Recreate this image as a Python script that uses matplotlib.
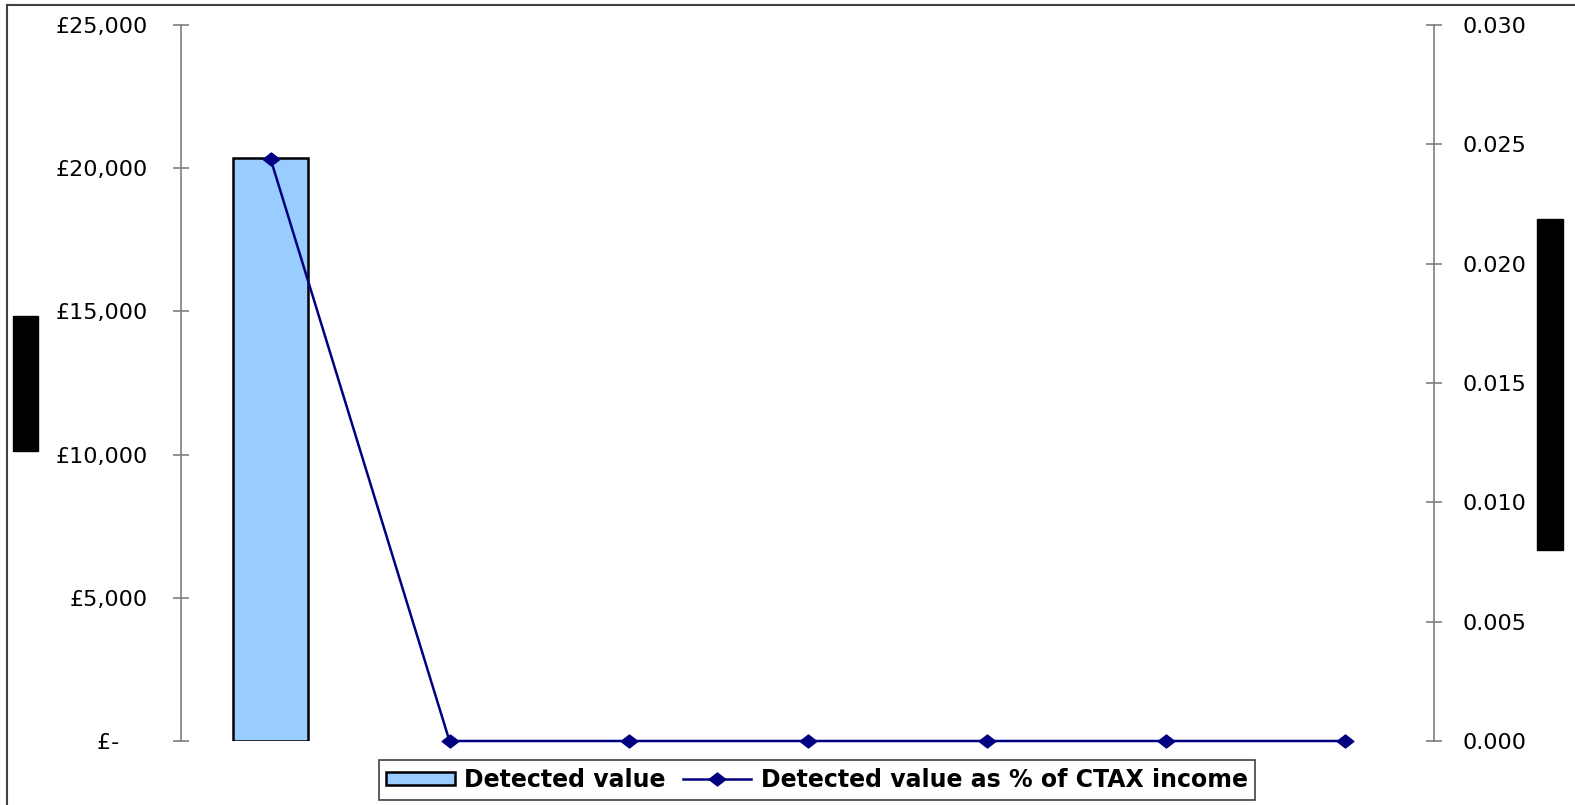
import numpy as np
import matplotlib
matplotlib.use("Agg")
import matplotlib.pyplot as plt
from matplotlib.path import Path
from matplotlib.lines import Line2D
from matplotlib.patches import Rectangle
from matplotlib.ticker import FuncFormatter, MultipleLocator

# Detected value (GBP) per period and the same as a share of council tax income
detected_value = [20350, 0, 0, 0, 0, 0, 0]
detected_pct = [0.0244, 0.0, 0.0, 0.0, 0.0, 0.0, 0.0]
bar_label = "Detected value"
line_label = "Detected value as % of CTAX income"

plt.rcParams["font.family"] = ["DejaVu Sans"]

W, H = 1575, 805
fig = plt.figure(figsize=(W / 100, H / 100), dpi=100)

def fx(px):
    return px / W

def fy(py):
    return 1 - py / H

left, right, top, bottom = 181, 1434, 25, 741
ax = fig.add_axes([fx(left), fy(bottom), fx(right) - fx(left), fy(top) - fy(bottom)])
ax2 = ax.twinx()

x = np.arange(len(detected_value))
bars = ax.bar(x, detected_value, width=0.42, color="#99CCFF", edgecolor="black",
              linewidth=[1.8 if v else 0 for v in detected_value], zorder=2)

diamond = Path([(-1, 0), (0, 0.78), (1, 0), (0, -0.78), (-1, 0)],
               [Path.MOVETO, Path.LINETO, Path.LINETO, Path.LINETO, Path.CLOSEPOLY])
line, = ax2.plot(x, detected_pct, color="#000080", linewidth=1.8,
                 marker=diamond, markersize=12, zorder=3, clip_on=False)

ax.set_xlim(-0.5, len(detected_value) - 0.5)
ax.set_ylim(0, 25000)
ax2.set_ylim(0, 0.030)
ax.yaxis.set_major_locator(MultipleLocator(5000))
ax2.yaxis.set_major_locator(MultipleLocator(0.005))

def pounds(v, _):
    # accounting style: zero shown as a dash, padded on the right
    return "£-    " if v == 0 else f"£{v:,.0f}"

ax.yaxis.set_major_formatter(FuncFormatter(pounds))
ax2.yaxis.set_major_formatter(FuncFormatter(lambda v, _: f"{v:.3f}"))

spine_col = "#7f7f7f"
for a in (ax, ax2):
    for s in ("top", "bottom"):
        a.spines[s].set_visible(False)
    a.set_xticks([])
    a.patch.set_visible(False)
ax.spines["right"].set_visible(False)
ax2.spines["left"].set_visible(False)
ax.spines["left"].set_color(spine_col)
ax.spines["left"].set_linewidth(1.2)
ax2.spines["right"].set_color(spine_col)
ax2.spines["right"].set_linewidth(1.2)

ax.tick_params(axis="y", direction="inout", length=11.5, width=1.2, color=spine_col,
               labelsize=16, pad=18, labelcolor="black")
ax2.tick_params(axis="y", direction="inout", length=11.5, width=1.2, color=spine_col,
                labelsize=16, pad=15, labelcolor="black")

leg = fig.legend([bars, line], [bar_label, line_label], loc="center",
                 bbox_to_anchor=(fx(817), fy(780)), ncol=2, frameon=True,
                 fancybox=False, edgecolor="#404040", framealpha=1,
                 prop={"family": "DejaVu Sans", "weight": "bold", "size": 17},
                 handlelength=2.9, handleheight=0.5, handletextpad=0.42,
                 columnspacing=0.7, borderpad=0.32, borderaxespad=0)
leg.get_frame().set_linewidth(1.2)

# Redaction blocks where the axis titles sit
fig.patches.append(Rectangle((fx(13), fy(451)), fx(38) - fx(13), fy(316) - fy(451),
                             transform=fig.transFigure, color="black", zorder=5))
fig.patches.append(Rectangle((fx(1537), fy(550)), fx(1563) - fx(1537), fy(219) - fy(550),
                             transform=fig.transFigure, color="black", zorder=5))

# Outer chart-area border (top and left edges)
fig.add_artist(Line2D([fx(7), 1], [fy(5), fy(5)], transform=fig.transFigure,
                      color="#404040", linewidth=1.5))
fig.add_artist(Line2D([fx(7), fx(7)], [fy(5), 0], transform=fig.transFigure,
                      color="#404040", linewidth=1.5))

fig.savefig("out.png", dpi=100)
